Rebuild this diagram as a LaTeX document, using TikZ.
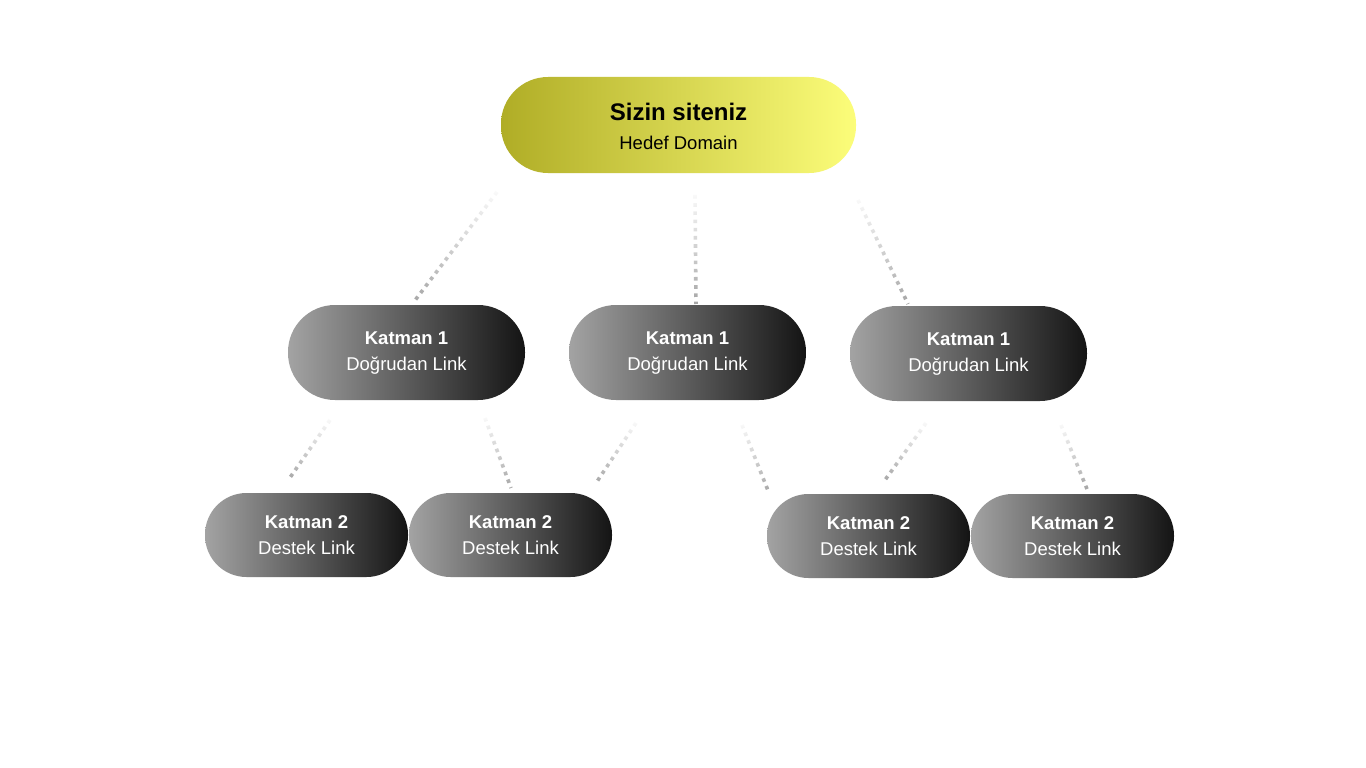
\documentclass[tikz,border=0pt]{standalone}
\usepackage{fontspec}
\setmainfont{Liberation Sans}
\usetikzlibrary{fadings}
\definecolor{olivel}{RGB}{176,173,38}
\definecolor{yelr}{RGB}{252,253,122}
\definecolor{gl}{RGB}{163,163,163}
\definecolor{gd}{RGB}{20,20,20}
\definecolor{dotc}{RGB}{165,165,165}
\tikzfading[name=fadeup, top color=transparent!95, bottom color=transparent!0]
\begin{document}
\begin{tikzpicture}[x=1pt,y=-1pt,
  pill/.style={draw=none, inner sep=0pt, align=center},
  toppill/.style={pill, minimum width=355pt, minimum height=96pt, rounded corners=47pt,
    left color=olivel, right color=yelr},
  lone/.style={pill, minimum width=237pt, minimum height=95pt, rounded corners=47pt,
    left color=gl, right color=gd},
  ltwo/.style={pill, minimum width=203pt, minimum height=84pt, rounded corners=41.5pt,
    left color=gl, right color=gd},
  ttxt/.style={text=black, align=center, inner sep=0pt, font=\fontsize{18.5}{29}\selectfont},
  ltxt/.style={text=white, align=center, inner sep=0pt, font=\fontsize{18.5}{26}\selectfont},
  conn/.style={draw=dotc, line width=3.6pt, dash pattern=on 3.6pt off 4.6pt, path fading=fadeup}]
\fill[white] (0,0) rectangle (1366,768);
\useasboundingbox (0,0) rectangle (1366,768);

\node[toppill] (top) at (678.5,125) {};
\node[ttxt] (toptext) at ([yshift=-1pt]top.center) {{\fontsize{24}{29}\selectfont\bfseries Sizin siteniz}\\Hedef Domain};

\node[lone] (a) at (406.5,352.5) {};
\node[lone] (b) at (687.5,352.5) {};
\node[lone] (c) at (968.5,353.5) {};
\node[ltwo] (a1) at (306.5,535) {};
\node[ltwo] (a2) at (510.5,535) {};
\node[ltwo] (c1) at (868.5,536) {};
\node[ltwo] (c2) at (1072.5,536) {};

\foreach \n in {a,b,c} {\node[ltxt] (\n text) at ([yshift=-0.5pt]\n.center) {\textbf{Katman 1}\\Doğrudan Link};}
\foreach \n in {a1,a2,c1,c2} {\node[ltxt] (\n text) at ([yshift=-0.5pt]\n.center) {\textbf{Katman 2}\\Destek Link};}

\coordinate (t1) at (497,192); \coordinate (e1) at (413,303);
\coordinate (t2) at (695,195); \coordinate (e2) at (696,304);
\coordinate (t3) at (858,200); \coordinate (e3) at (908,304);
\coordinate (t4) at (330,420); \coordinate (e4) at (289,479);
\coordinate (t5) at (485,418); \coordinate (e5) at (511,488);
\coordinate (t6) at (636,423); \coordinate (e6) at (596,483);
\coordinate (t7) at (742,425); \coordinate (e7) at (769,493);
\coordinate (t8) at (926,423); \coordinate (e8) at (885,480);
\coordinate (t9) at (1061,425); \coordinate (e9) at (1087,489);

\foreach \i in {1,...,9} {\draw[conn] (t\i) -- (e\i);}
\end{tikzpicture}
\end{document}
